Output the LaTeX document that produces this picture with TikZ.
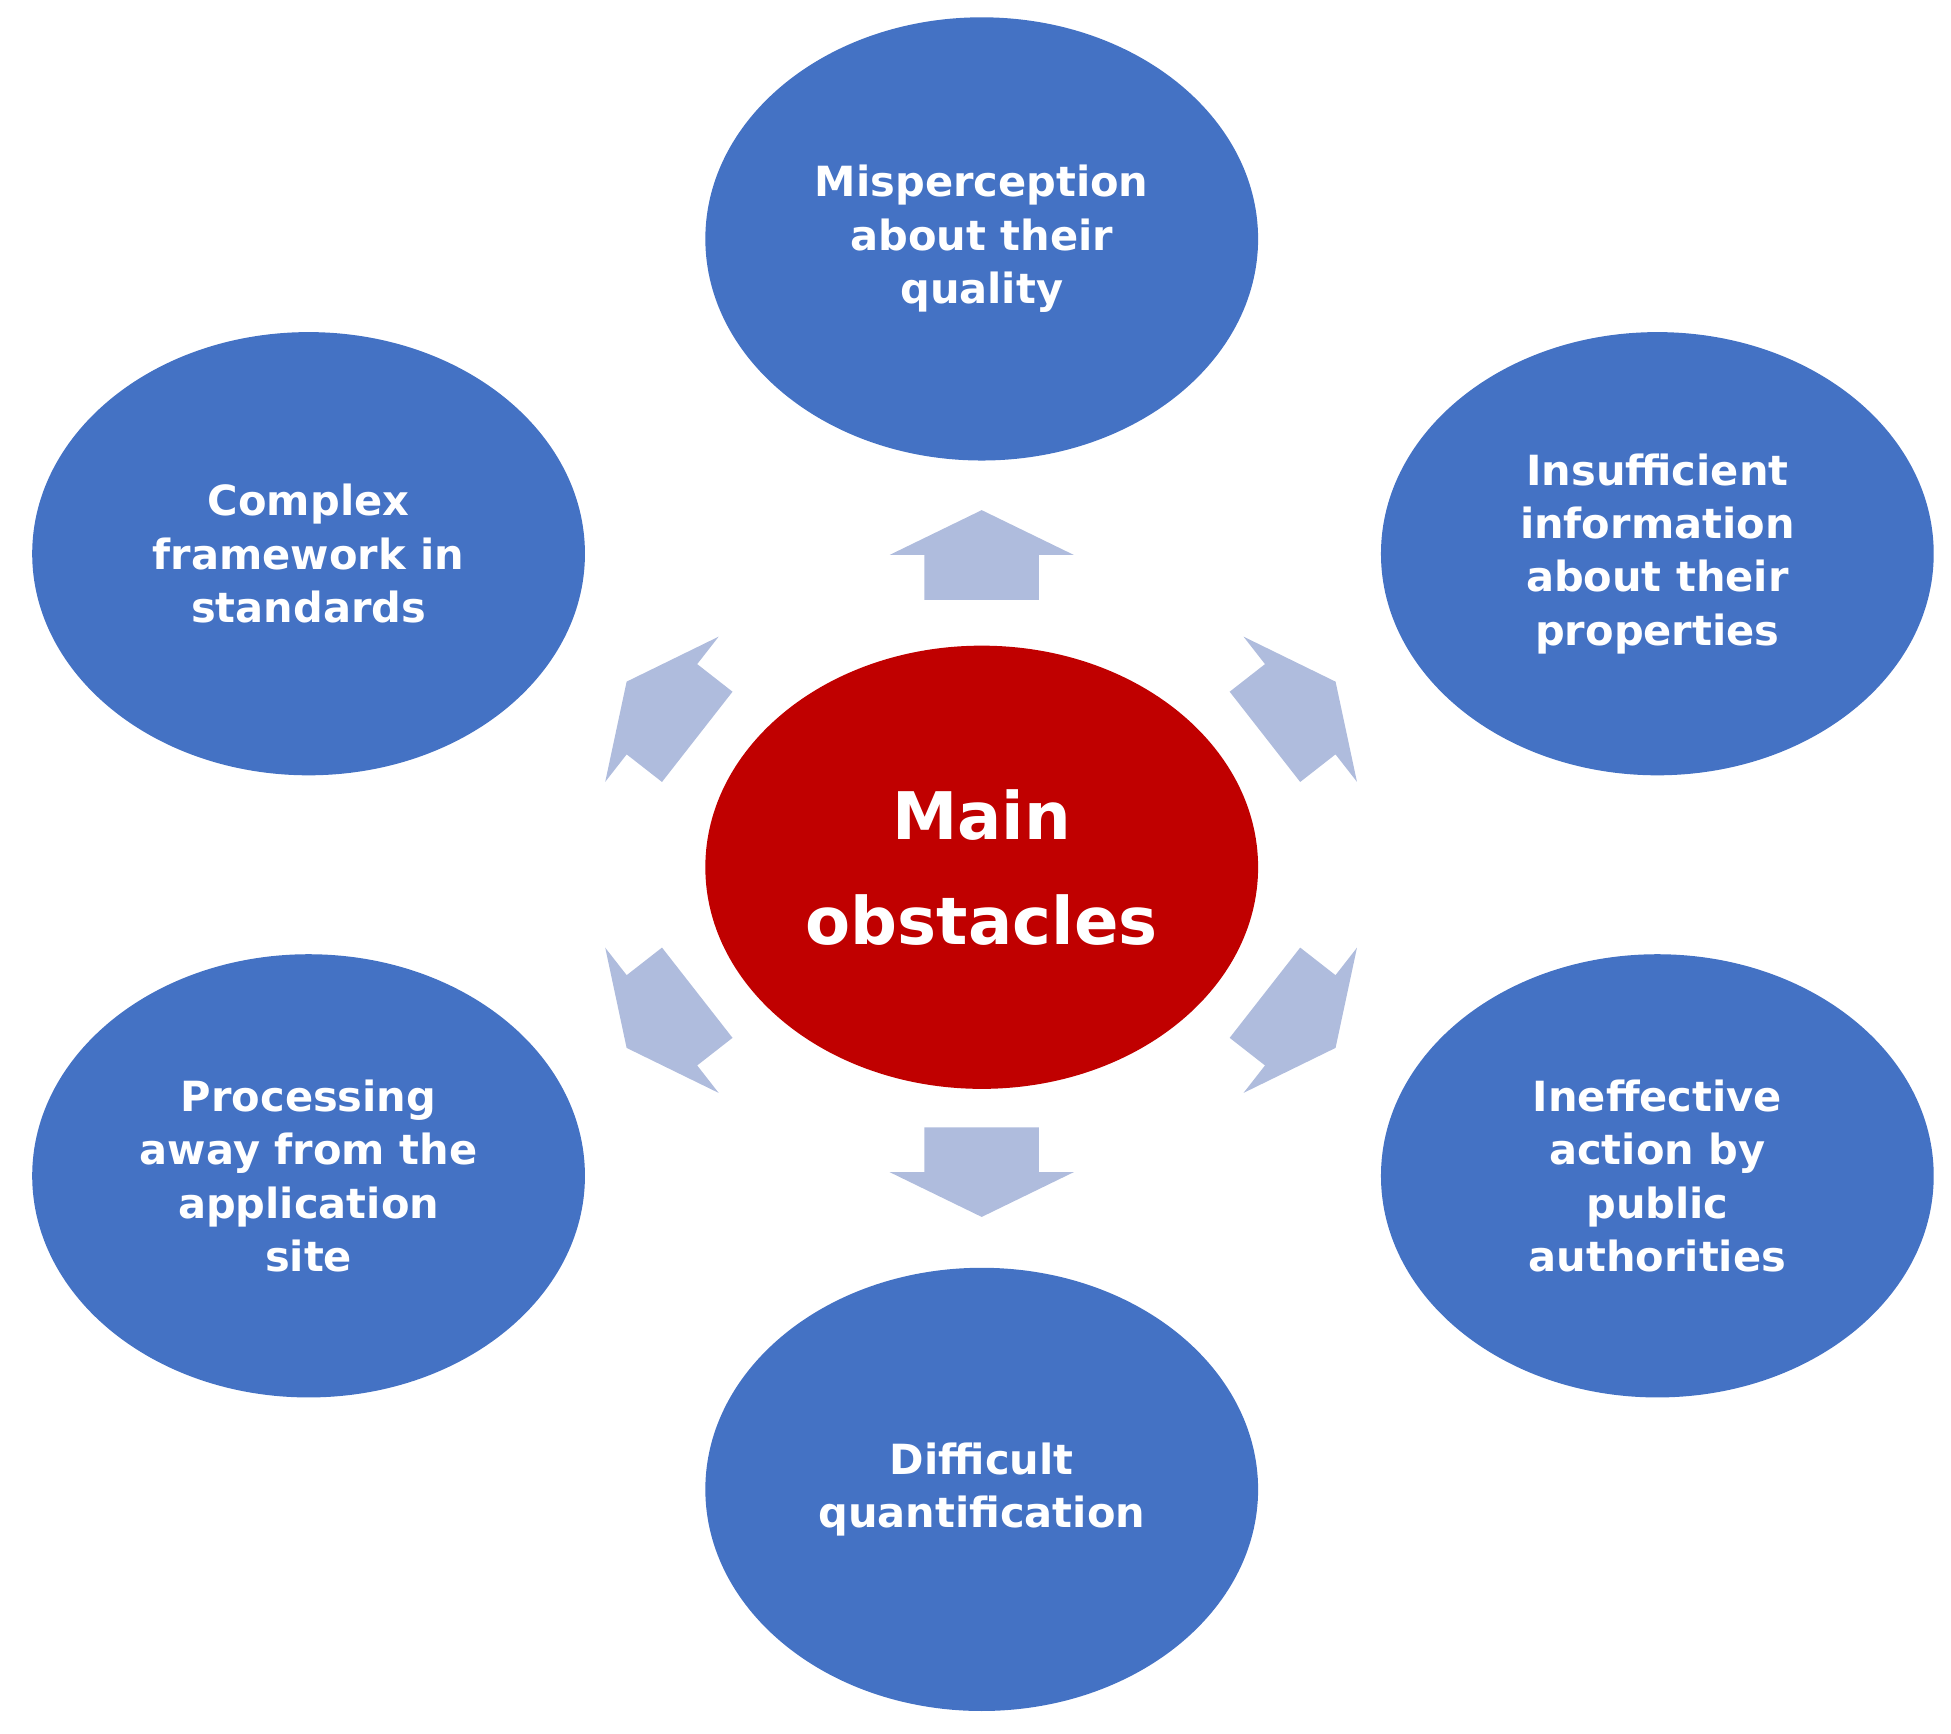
\documentclass[tikz,border=0pt]{standalone}
\usepackage{fontspec}
\setmainfont{DejaVu Sans}
\usetikzlibrary{shapes.geometric}
\definecolor{bl}{HTML}{4472C4}
\definecolor{rd}{HTML}{C00000}
\definecolor{ar}{HTML}{AFBCDD}
\begin{document}
\begin{tikzpicture}[x=0.01cm,y=-0.01cm,
 ob/.style={ellipse,fill=bl,minimum width=444\pgflinewidth*0+4.44cm,minimum height=3.56cm,inner sep=0pt,text=white,align=center,font=\fontsize{9.5}{12.2}\selectfont\bfseries},
 ctr/.style={ellipse,fill=rd,minimum width=4.44cm,minimum height=3.56cm,inner sep=0pt,text=white,align=center,font=\fontsize{15}{24}\selectfont\bfseries},
 blk/.style={fill=ar}]
\useasboundingbox (0,0) rectangle (1568,1393);
\node[ctr] (c) at (789,697) {Main\\obstacles};
\node[ob] (t) at (789,192) {Misperception\\about their\\quality};
\node[ob] (ul) at (248,445) {Complex\\framework in\\standards};
\node[ob] (ur) at (1332,445) {Insufficient\\information\\about their\\properties};
\node[ob] (ll) at (248,945) {Processing\\away from the\\application\\site};
\node[ob] (lr) at (1332,945) {Ineffective\\action by\\public\\authorities};
\node[ob] (b) at (789,1197) {Difficult\\quantification};
\foreach \p/\a in {{(789,446)}/90,{(789,942)}/-90,{(1045,570)}/38,{(532,570)}/142,{(532,820)}/-142,{(1045,820)}/-38}{
 \fill[ar,shift={\p},rotate=\a] (-0.36cm,-0.46cm) -- (0,-0.46cm) -- (0,-0.74cm) -- (0.36cm,0) -- (0,0.74cm) -- (0,0.46cm) -- (-0.36cm,0.46cm) -- cycle;
}
\end{tikzpicture}
\end{document}
